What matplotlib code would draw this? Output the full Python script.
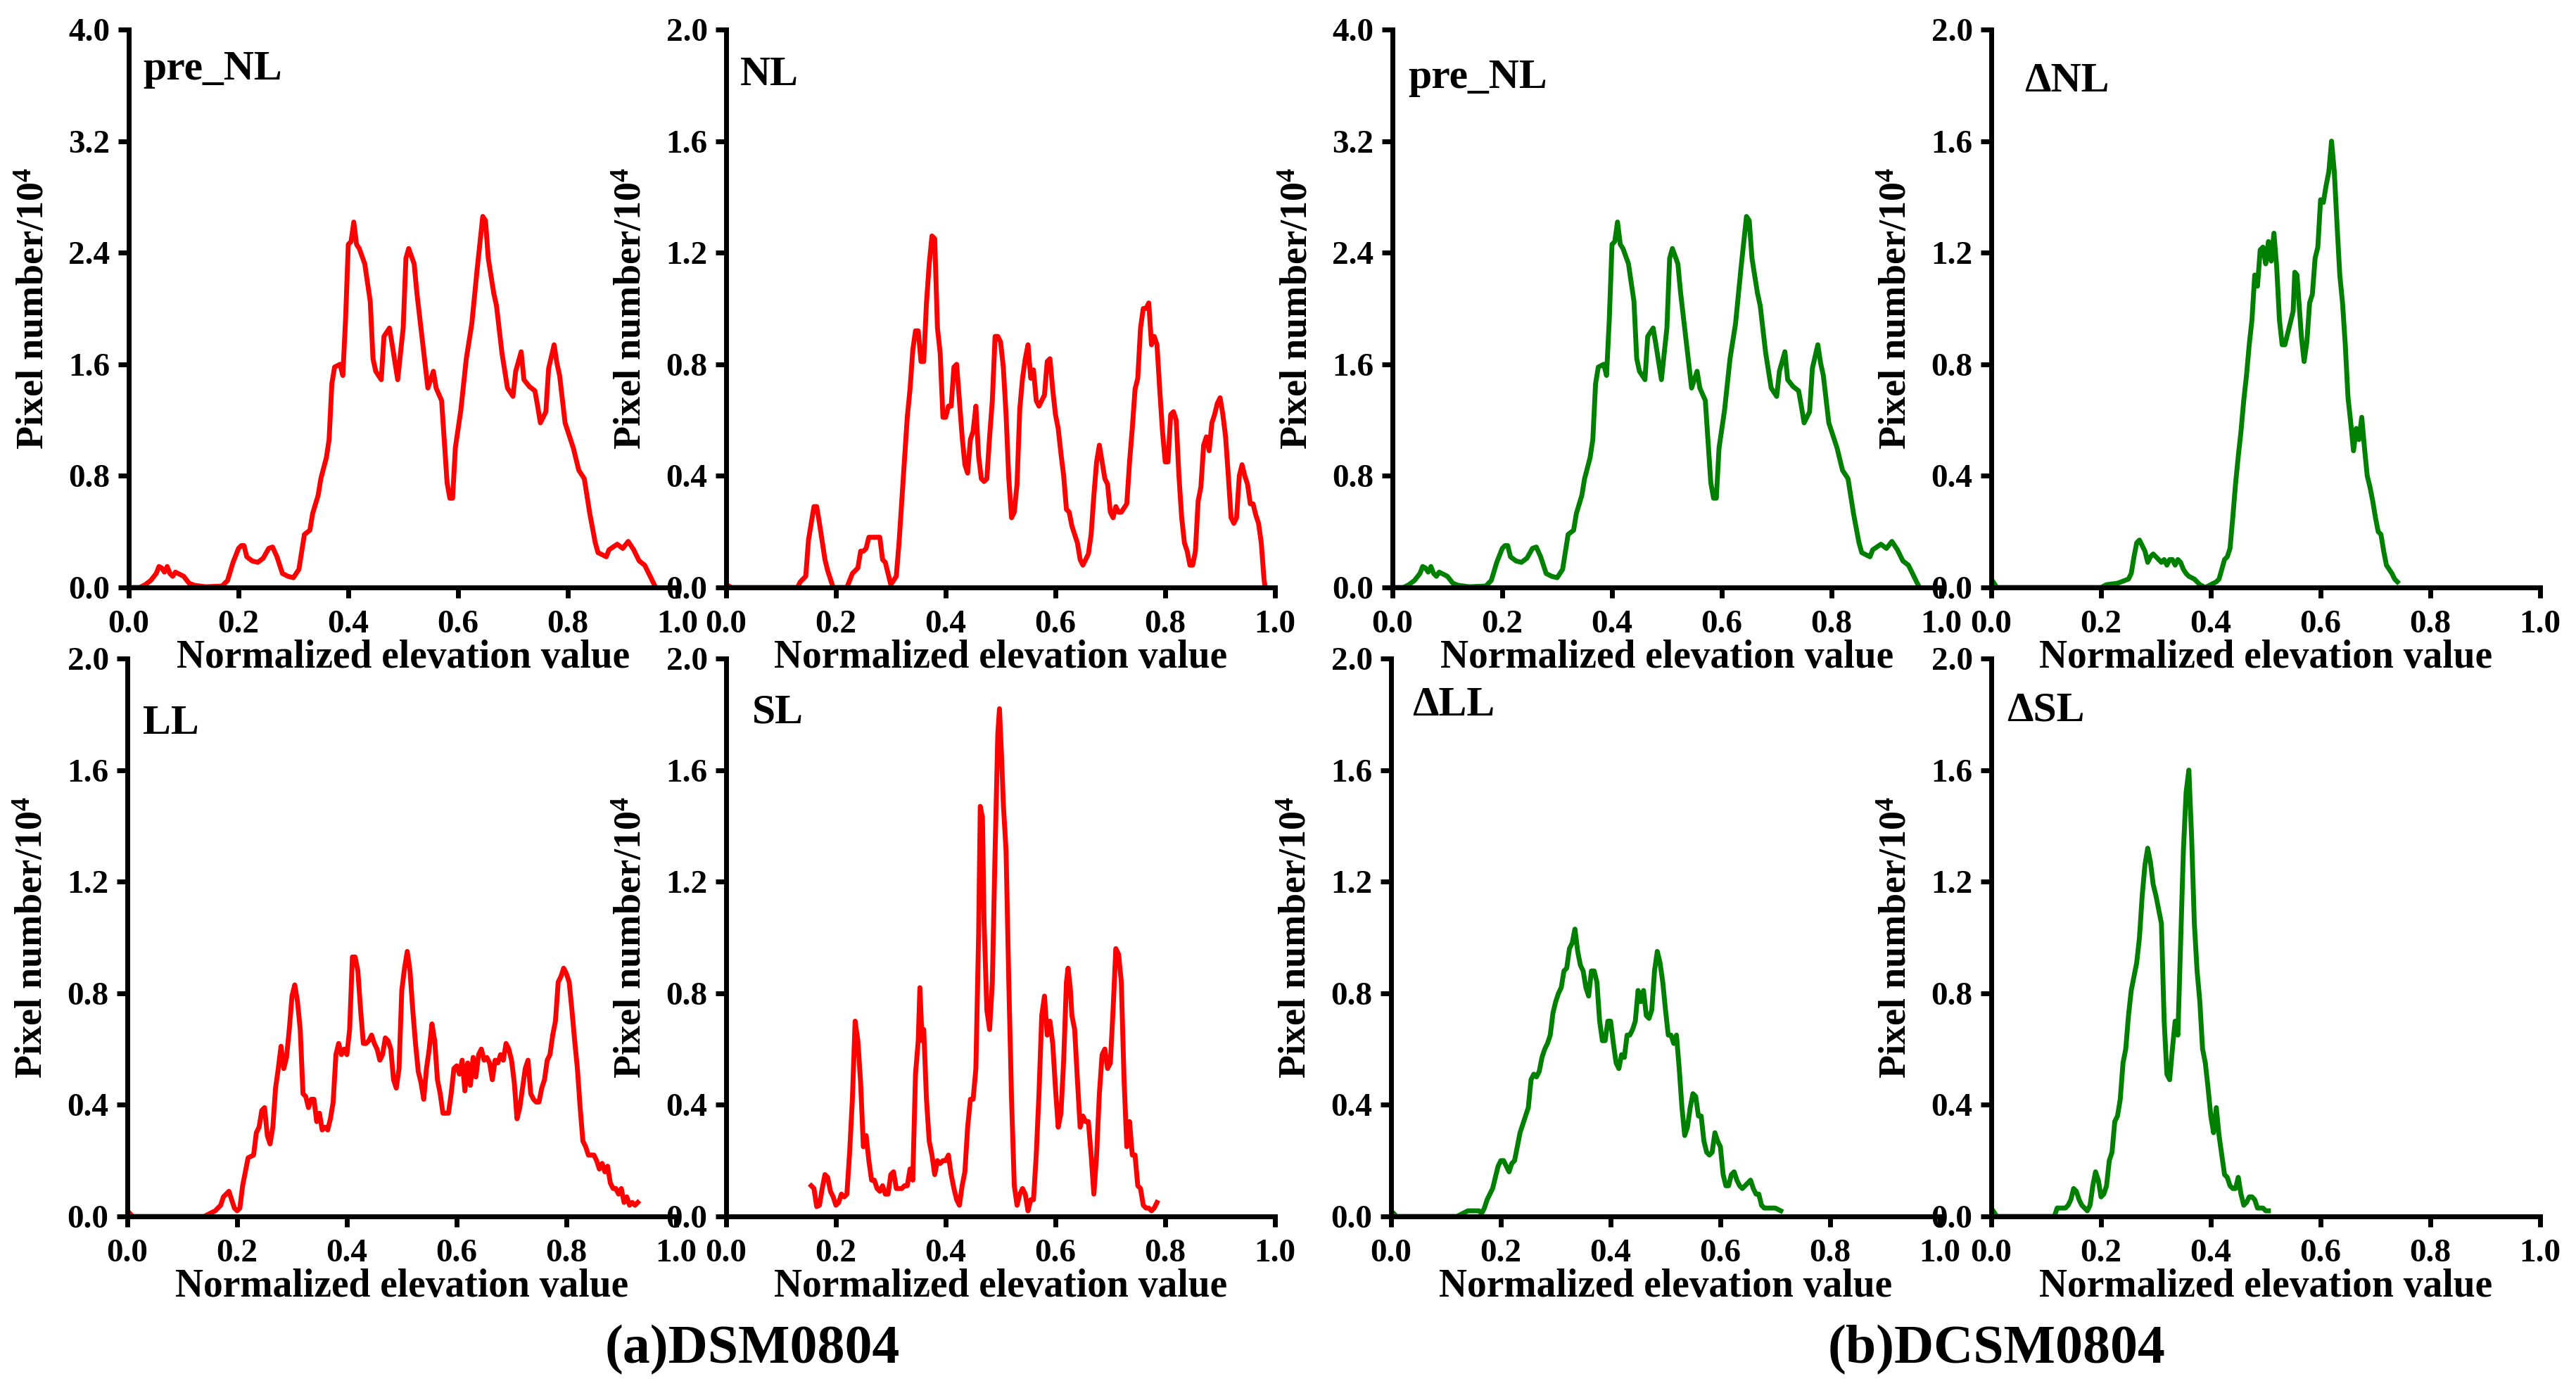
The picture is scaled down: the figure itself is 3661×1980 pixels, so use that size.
import numpy as np
import matplotlib
matplotlib.use('Agg')
import matplotlib.pyplot as plt

plt.rcParams['font.family'] = ['Liberation Serif', 'DejaVu Serif']
plt.rcParams['font.weight'] = 'bold'
plt.rcParams['mathtext.fontset'] = 'custom'
plt.rcParams['mathtext.rm'] = 'Liberation Serif:bold'
plt.rcParams['mathtext.bf'] = 'Liberation Serif:bold'
plt.rcParams['mathtext.it'] = 'Liberation Serif:bold'
plt.rcParams['mathtext.default'] = 'rm'

# (elevation, pixel number / 1e4)
pre_nl = [(0, 0), (0.02, 0), (0.03, 0.02), (0.04, 0.05), (0.05, 0.1), (0.055, 0.15), (0.06, 0.14),
          (0.065, 0.11), (0.07, 0.15), (0.075, 0.1), (0.08, 0.08), (0.085, 0.11), (0.09, 0.1),
          (0.1, 0.08), (0.11, 0.03), (0.12, 0.015), (0.14, 0.005), (0.17, 0.01), (0.18, 0.05),
          (0.19, 0.18), (0.2, 0.28), (0.205, 0.3), (0.21, 0.3), (0.215, 0.22), (0.225, 0.19),
          (0.235, 0.18), (0.245, 0.21), (0.255, 0.28), (0.262, 0.29), (0.27, 0.22), (0.28, 0.1),
          (0.29, 0.08), (0.3, 0.07), (0.31, 0.13), (0.32, 0.38), (0.33, 0.41), (0.335, 0.53),
          (0.345, 0.66), (0.35, 0.78), (0.36, 0.93), (0.365, 1.06), (0.37, 1.46), (0.375, 1.58),
          (0.385, 1.6), (0.39, 1.52), (0.395, 1.92), (0.4, 2.46), (0.405, 2.48), (0.41, 2.62),
          (0.415, 2.46), (0.42, 2.43), (0.43, 2.32), (0.44, 2.05), (0.445, 1.64), (0.45, 1.55),
          (0.46, 1.49), (0.465, 1.8), (0.475, 1.86), (0.48, 1.74), (0.49, 1.49), (0.5, 1.86),
          (0.505, 2.36), (0.51, 2.43), (0.52, 2.32), (0.525, 2.11), (0.535, 1.77), (0.545, 1.43),
          (0.55, 1.49), (0.555, 1.55), (0.56, 1.43), (0.57, 1.34), (0.58, 0.75), (0.585, 0.64),
          (0.59, 0.64), (0.595, 1.0), (0.605, 1.27), (0.615, 1.64), (0.625, 1.89), (0.635, 2.29),
          (0.645, 2.66), (0.65, 2.63), (0.655, 2.36), (0.665, 2.11), (0.67, 2.02), (0.68, 1.68),
          (0.69, 1.43), (0.7, 1.37), (0.705, 1.55), (0.715, 1.69), (0.72, 1.49), (0.73, 1.44),
          (0.74, 1.41), (0.745, 1.3), (0.75, 1.18), (0.76, 1.26), (0.765, 1.57), (0.775, 1.74),
          (0.78, 1.61), (0.785, 1.52), (0.795, 1.18), (0.81, 1.0), (0.82, 0.84), (0.83, 0.78),
          (0.84, 0.53), (0.85, 0.32), (0.855, 0.25), (0.87, 0.22), (0.875, 0.27), (0.89, 0.31),
          (0.9, 0.28), (0.91, 0.33), (0.92, 0.27), (0.93, 0.19), (0.94, 0.16), (0.95, 0.08),
          (0.96, 0.0)]

nl = [(0, 0.01), (0.01, 0), (0.13, 0), (0.135, 0.02), (0.145, 0.04), (0.15, 0.17), (0.16, 0.29),
      (0.165, 0.29), (0.17, 0.23), (0.18, 0.1), (0.185, 0.06), (0.195, 0.0), (0.22, 0.0),
      (0.23, 0.05), (0.24, 0.07), (0.245, 0.13), (0.25, 0.13), (0.255, 0.14), (0.26, 0.18),
      (0.27, 0.18), (0.28, 0.18), (0.285, 0.1), (0.29, 0.09), (0.3, 0.01), (0.31, 0.04),
      (0.315, 0.16), (0.32, 0.31), (0.33, 0.61), (0.335, 0.71), (0.34, 0.85), (0.345, 0.92),
      (0.35, 0.92), (0.355, 0.81), (0.36, 0.81), (0.365, 1.02), (0.37, 1.16), (0.375, 1.26),
      (0.38, 1.25), (0.385, 0.93), (0.39, 0.84), (0.395, 0.61), (0.4, 0.61), (0.405, 0.65),
      (0.41, 0.65), (0.415, 0.79), (0.42, 0.8), (0.425, 0.67), (0.43, 0.54), (0.435, 0.44),
      (0.44, 0.41), (0.445, 0.53), (0.45, 0.56), (0.455, 0.65), (0.46, 0.47), (0.465, 0.39),
      (0.47, 0.38), (0.475, 0.39), (0.48, 0.54), (0.485, 0.67), (0.49, 0.9), (0.495, 0.9),
      (0.5, 0.88), (0.505, 0.79), (0.51, 0.62), (0.515, 0.39), (0.52, 0.25), (0.525, 0.27),
      (0.53, 0.37), (0.535, 0.64), (0.54, 0.75), (0.545, 0.82), (0.55, 0.87), (0.555, 0.75),
      (0.56, 0.78), (0.565, 0.67), (0.57, 0.65), (0.575, 0.67), (0.58, 0.69), (0.585, 0.81),
      (0.59, 0.82), (0.595, 0.71), (0.6, 0.62), (0.605, 0.57), (0.61, 0.48), (0.615, 0.4),
      (0.62, 0.28), (0.625, 0.27), (0.63, 0.22), (0.64, 0.16), (0.645, 0.1), (0.65, 0.08),
      (0.655, 0.1), (0.66, 0.12), (0.665, 0.19), (0.67, 0.33), (0.675, 0.45), (0.68, 0.51),
      (0.685, 0.45), (0.69, 0.39), (0.695, 0.37), (0.7, 0.27), (0.705, 0.25), (0.71, 0.29),
      (0.715, 0.27), (0.72, 0.27), (0.73, 0.3), (0.735, 0.45), (0.74, 0.57), (0.745, 0.71),
      (0.75, 0.75), (0.755, 0.93), (0.76, 1.0), (0.765, 1.0), (0.77, 1.02), (0.775, 0.87),
      (0.78, 0.9), (0.785, 0.87), (0.79, 0.71), (0.795, 0.56), (0.8, 0.45), (0.805, 0.45),
      (0.81, 0.62), (0.815, 0.63), (0.82, 0.6), (0.825, 0.4), (0.83, 0.25), (0.835, 0.16),
      (0.84, 0.13), (0.845, 0.08), (0.85, 0.08), (0.855, 0.13), (0.86, 0.31), (0.865, 0.36),
      (0.87, 0.51), (0.875, 0.54), (0.88, 0.49), (0.885, 0.59), (0.89, 0.62), (0.895, 0.66),
      (0.9, 0.68), (0.905, 0.62), (0.91, 0.54), (0.915, 0.4), (0.92, 0.25), (0.925, 0.23),
      (0.93, 0.25), (0.935, 0.4), (0.94, 0.44), (0.945, 0.4), (0.95, 0.37), (0.955, 0.3),
      (0.96, 0.3), (0.965, 0.26), (0.97, 0.23), (0.975, 0.16), (0.98, 0.03), (0.982, 0.0)]

ll = [(0, 0.02), (0.01, 0), (0.14, 0), (0.15, 0.01), (0.16, 0.02), (0.17, 0.04), (0.175, 0.07),
      (0.185, 0.09), (0.19, 0.06), (0.195, 0.03), (0.2, 0.02), (0.205, 0.03), (0.21, 0.11),
      (0.215, 0.16), (0.22, 0.21), (0.23, 0.22), (0.235, 0.3), (0.24, 0.32), (0.245, 0.38),
      (0.25, 0.39), (0.255, 0.29), (0.26, 0.26), (0.265, 0.32), (0.27, 0.46), (0.275, 0.53),
      (0.28, 0.61), (0.285, 0.53), (0.29, 0.57), (0.295, 0.67), (0.3, 0.79), (0.305, 0.83),
      (0.31, 0.77), (0.315, 0.67), (0.32, 0.44), (0.325, 0.43), (0.33, 0.39), (0.335, 0.42),
      (0.34, 0.42), (0.345, 0.34), (0.35, 0.37), (0.355, 0.31), (0.36, 0.32), (0.365, 0.31),
      (0.37, 0.35), (0.375, 0.41), (0.38, 0.58), (0.385, 0.62), (0.39, 0.58), (0.395, 0.6),
      (0.4, 0.58), (0.405, 0.67), (0.41, 0.93), (0.415, 0.93), (0.42, 0.88), (0.425, 0.74),
      (0.43, 0.62), (0.435, 0.62), (0.44, 0.63), (0.445, 0.65), (0.45, 0.62), (0.455, 0.6),
      (0.46, 0.56), (0.465, 0.58), (0.47, 0.64), (0.475, 0.63), (0.48, 0.6), (0.485, 0.49),
      (0.49, 0.46), (0.495, 0.53), (0.5, 0.81), (0.505, 0.89), (0.51, 0.95), (0.515, 0.88),
      (0.52, 0.74), (0.525, 0.62), (0.53, 0.52), (0.535, 0.48), (0.54, 0.42), (0.545, 0.53),
      (0.55, 0.6), (0.555, 0.69), (0.56, 0.63), (0.565, 0.49), (0.57, 0.44), (0.575, 0.37),
      (0.58, 0.37), (0.585, 0.37), (0.59, 0.44), (0.595, 0.53), (0.6, 0.54), (0.605, 0.51),
      (0.61, 0.56), (0.615, 0.45), (0.62, 0.55), (0.625, 0.47), (0.63, 0.57), (0.635, 0.5),
      (0.64, 0.58), (0.645, 0.6), (0.65, 0.56), (0.655, 0.57), (0.66, 0.55), (0.665, 0.49),
      (0.67, 0.56), (0.675, 0.55), (0.68, 0.58), (0.685, 0.56), (0.69, 0.62), (0.695, 0.6),
      (0.7, 0.56), (0.705, 0.48), (0.71, 0.35), (0.715, 0.39), (0.72, 0.46), (0.725, 0.53),
      (0.73, 0.56), (0.735, 0.44), (0.74, 0.42), (0.745, 0.41), (0.75, 0.41), (0.755, 0.46),
      (0.76, 0.49), (0.765, 0.56), (0.77, 0.58), (0.775, 0.65), (0.78, 0.7), (0.785, 0.84),
      (0.79, 0.86), (0.795, 0.89), (0.8, 0.87), (0.805, 0.84), (0.81, 0.74), (0.815, 0.63),
      (0.82, 0.53), (0.825, 0.39), (0.83, 0.27), (0.835, 0.25), (0.84, 0.22), (0.85, 0.22),
      (0.855, 0.2), (0.86, 0.17), (0.865, 0.19), (0.87, 0.16), (0.875, 0.18), (0.88, 0.12),
      (0.885, 0.1), (0.89, 0.1), (0.895, 0.08), (0.9, 0.1), (0.905, 0.05), (0.91, 0.07),
      (0.915, 0.04), (0.92, 0.05), (0.925, 0.04), (0.93, 0.05)]

sl = [(0.155, 0.11), (0.16, 0.1), (0.165, 0.035), (0.17, 0.04), (0.175, 0.1), (0.18, 0.15),
      (0.185, 0.14), (0.19, 0.09), (0.195, 0.07), (0.2, 0.04), (0.205, 0.05), (0.21, 0.08),
      (0.215, 0.07), (0.22, 0.08), (0.225, 0.23), (0.23, 0.42), (0.235, 0.7), (0.24, 0.63),
      (0.245, 0.48), (0.25, 0.25), (0.255, 0.29), (0.26, 0.2), (0.265, 0.13), (0.27, 0.13),
      (0.275, 0.1), (0.28, 0.09), (0.285, 0.11), (0.29, 0.08), (0.295, 0.08), (0.3, 0.15),
      (0.305, 0.16), (0.31, 0.1), (0.315, 0.1), (0.32, 0.1), (0.325, 0.11), (0.33, 0.11),
      (0.335, 0.17), (0.34, 0.13), (0.345, 0.51), (0.35, 0.63), (0.353, 0.82), (0.357, 0.63),
      (0.36, 0.67), (0.365, 0.42), (0.37, 0.27), (0.375, 0.22), (0.38, 0.15), (0.385, 0.2),
      (0.39, 0.19), (0.395, 0.2), (0.4, 0.2), (0.405, 0.22), (0.41, 0.15), (0.415, 0.1),
      (0.42, 0.06), (0.425, 0.04), (0.43, 0.11), (0.435, 0.16), (0.44, 0.32), (0.445, 0.42),
      (0.45, 0.42), (0.455, 0.53), (0.46, 1.01), (0.463, 1.47), (0.467, 1.43), (0.47, 1.05),
      (0.475, 0.74), (0.48, 0.67), (0.485, 0.84), (0.49, 1.31), (0.495, 1.73), (0.498, 1.82),
      (0.502, 1.64), (0.505, 1.48), (0.51, 1.31), (0.515, 0.84), (0.52, 0.42), (0.525, 0.11),
      (0.53, 0.04), (0.535, 0.08), (0.54, 0.1), (0.545, 0.08), (0.55, 0.02), (0.555, 0.06),
      (0.56, 0.06), (0.565, 0.22), (0.57, 0.44), (0.575, 0.72), (0.58, 0.79), (0.585, 0.65),
      (0.59, 0.7), (0.595, 0.62), (0.6, 0.46), (0.605, 0.32), (0.61, 0.37), (0.615, 0.56),
      (0.62, 0.84), (0.623, 0.89), (0.627, 0.82), (0.63, 0.72), (0.635, 0.67), (0.64, 0.49),
      (0.645, 0.32), (0.65, 0.36), (0.655, 0.34), (0.66, 0.34), (0.665, 0.22), (0.67, 0.08),
      (0.675, 0.22), (0.68, 0.44), (0.685, 0.58), (0.69, 0.6), (0.695, 0.53), (0.7, 0.55),
      (0.705, 0.74), (0.71, 0.96), (0.715, 0.94), (0.72, 0.84), (0.725, 0.49), (0.73, 0.25),
      (0.735, 0.34), (0.74, 0.22), (0.745, 0.22), (0.75, 0.11), (0.755, 0.1), (0.76, 0.04),
      (0.765, 0.03), (0.77, 0.03), (0.775, 0.02), (0.78, 0.03), (0.785, 0.05)]

d_nl = [(0, 0.03), (0.01, 0), (0.2, 0), (0.21, 0.01), (0.23, 0.015), (0.25, 0.03), (0.255, 0.05),
        (0.26, 0.11), (0.265, 0.16), (0.27, 0.17), (0.275, 0.15), (0.28, 0.13), (0.285, 0.09),
        (0.29, 0.11), (0.295, 0.12), (0.3, 0.11), (0.305, 0.1), (0.31, 0.09), (0.315, 0.1),
        (0.32, 0.08), (0.325, 0.1), (0.33, 0.1), (0.335, 0.08), (0.34, 0.1), (0.345, 0.09),
        (0.35, 0.065), (0.355, 0.05), (0.36, 0.04), (0.37, 0.03), (0.38, 0.01), (0.39, 0.0),
        (0.4, 0.01), (0.41, 0.02), (0.415, 0.03), (0.42, 0.065), (0.425, 0.1), (0.43, 0.11),
        (0.435, 0.14), (0.44, 0.25), (0.445, 0.37), (0.45, 0.47), (0.455, 0.56), (0.46, 0.67),
        (0.465, 0.76), (0.47, 0.87), (0.475, 0.96), (0.48, 1.12), (0.485, 1.08), (0.49, 1.21),
        (0.495, 1.22), (0.5, 1.16), (0.505, 1.24), (0.51, 1.17), (0.515, 1.27), (0.52, 1.15),
        (0.525, 0.96), (0.53, 0.87), (0.535, 0.87), (0.54, 0.91), (0.545, 0.95), (0.55, 0.99),
        (0.553, 1.13), (0.557, 1.12), (0.56, 1.04), (0.565, 0.9), (0.57, 0.81), (0.575, 0.88),
        (0.58, 1.02), (0.585, 1.05), (0.59, 1.18), (0.595, 1.22), (0.6, 1.39), (0.605, 1.38),
        (0.61, 1.44), (0.615, 1.49), (0.62, 1.6), (0.625, 1.49), (0.63, 1.3), (0.635, 1.12),
        (0.64, 1.02), (0.645, 0.87), (0.65, 0.68), (0.655, 0.59), (0.66, 0.49), (0.665, 0.57),
        (0.67, 0.53), (0.675, 0.61), (0.68, 0.5), (0.685, 0.4), (0.69, 0.36), (0.695, 0.31),
        (0.7, 0.25), (0.705, 0.2), (0.71, 0.19), (0.715, 0.13), (0.72, 0.08), (0.725, 0.065),
        (0.73, 0.05), (0.735, 0.03), (0.74, 0.02)]

d_ll = [(0, 0.02), (0.01, 0), (0.12, 0), (0.13, 0.01), (0.14, 0.02), (0.15, 0.02), (0.16, 0.02),
        (0.165, 0.01), (0.17, 0.03), (0.175, 0.06), (0.18, 0.08), (0.185, 0.1), (0.19, 0.14),
        (0.195, 0.18), (0.2, 0.2), (0.205, 0.2), (0.21, 0.18), (0.215, 0.16), (0.22, 0.19),
        (0.225, 0.2), (0.23, 0.25), (0.235, 0.3), (0.24, 0.33), (0.245, 0.36), (0.25, 0.39),
        (0.255, 0.49), (0.26, 0.51), (0.265, 0.5), (0.27, 0.52), (0.275, 0.57), (0.28, 0.6),
        (0.285, 0.62), (0.29, 0.65), (0.295, 0.73), (0.3, 0.77), (0.305, 0.8), (0.31, 0.82),
        (0.315, 0.88), (0.32, 0.89), (0.325, 0.96), (0.33, 0.98), (0.335, 1.03), (0.34, 0.95),
        (0.345, 0.9), (0.35, 0.88), (0.355, 0.82), (0.36, 0.79), (0.365, 0.88), (0.37, 0.88),
        (0.375, 0.84), (0.38, 0.7), (0.385, 0.63), (0.39, 0.63), (0.395, 0.7), (0.4, 0.7),
        (0.405, 0.62), (0.41, 0.55), (0.415, 0.53), (0.42, 0.58), (0.425, 0.57), (0.43, 0.65),
        (0.435, 0.65), (0.44, 0.67), (0.445, 0.7), (0.45, 0.81), (0.455, 0.77), (0.46, 0.81),
        (0.465, 0.72), (0.47, 0.71), (0.475, 0.74), (0.48, 0.88), (0.485, 0.95), (0.49, 0.91),
        (0.495, 0.84), (0.5, 0.74), (0.505, 0.65), (0.51, 0.65), (0.515, 0.62), (0.52, 0.65),
        (0.525, 0.53), (0.53, 0.39), (0.535, 0.29), (0.54, 0.32), (0.545, 0.39), (0.55, 0.44),
        (0.555, 0.43), (0.56, 0.36), (0.565, 0.36), (0.57, 0.27), (0.575, 0.23), (0.58, 0.22),
        (0.585, 0.23), (0.59, 0.3), (0.595, 0.27), (0.6, 0.25), (0.605, 0.15), (0.61, 0.11),
        (0.615, 0.11), (0.62, 0.15), (0.625, 0.16), (0.63, 0.13), (0.635, 0.11), (0.64, 0.1),
        (0.645, 0.11), (0.65, 0.12), (0.655, 0.13), (0.66, 0.1), (0.665, 0.08), (0.67, 0.08),
        (0.675, 0.04), (0.68, 0.03), (0.69, 0.03), (0.7, 0.03), (0.71, 0.02)]

d_sl = [(0, 0.03), (0.01, 0), (0.115, 0), (0.12, 0.03), (0.125, 0.03), (0.13, 0.03), (0.135, 0.03),
        (0.14, 0.04), (0.145, 0.06), (0.15, 0.1), (0.155, 0.09), (0.16, 0.06), (0.165, 0.04),
        (0.17, 0.03), (0.175, 0.02), (0.18, 0.04), (0.185, 0.11), (0.19, 0.16), (0.195, 0.13),
        (0.2, 0.07), (0.205, 0.08), (0.21, 0.11), (0.215, 0.2), (0.22, 0.23), (0.225, 0.34),
        (0.23, 0.36), (0.235, 0.42), (0.24, 0.55), (0.245, 0.6), (0.25, 0.72), (0.255, 0.81),
        (0.26, 0.86), (0.265, 0.91), (0.27, 1.0), (0.275, 1.15), (0.28, 1.26), (0.285, 1.32),
        (0.29, 1.27), (0.295, 1.19), (0.3, 1.15), (0.305, 1.1), (0.31, 1.05), (0.315, 0.7),
        (0.32, 0.51), (0.325, 0.49), (0.33, 0.6), (0.335, 0.7), (0.34, 0.65), (0.345, 0.98),
        (0.35, 1.31), (0.355, 1.52), (0.36, 1.6), (0.365, 1.36), (0.37, 1.05), (0.375, 0.88),
        (0.38, 0.77), (0.385, 0.6), (0.39, 0.55), (0.395, 0.46), (0.4, 0.36), (0.405, 0.3),
        (0.41, 0.39), (0.415, 0.29), (0.42, 0.22), (0.425, 0.15), (0.43, 0.14), (0.435, 0.11),
        (0.44, 0.1), (0.445, 0.1), (0.45, 0.14), (0.455, 0.08), (0.46, 0.04), (0.465, 0.05),
        (0.47, 0.07), (0.475, 0.07), (0.48, 0.06), (0.485, 0.03), (0.49, 0.03), (0.495, 0.03),
        (0.5, 0.02), (0.505, 0.02)]

panels = [
    # series, label, colour, y max, y step, left edge px, row
    (pre_nl, 'pre_NL', '#ff0000', 4.0, 0.8, 183, 0),
    (nl, 'NL', '#ff0000', 2.0, 0.4, 1032, 0),
    (pre_nl, 'pre_NL', '#008000', 4.0, 0.8, 1979, 0),
    (d_nl, '\u0394NL', '#008000', 2.0, 0.4, 2830, 0),
    (ll, 'LL', '#ff0000', 2.0, 0.4, 181, 1),
    (sl, 'SL', '#ff0000', 2.0, 0.4, 1032, 1),
    (d_ll, '\u0394LL', '#008000', 2.0, 0.4, 1977, 1),
    (d_sl, '\u0394SL', '#008000', 2.0, 0.4, 2830, 1),
]
label_pos = [(0.026, 0.91), (0.026, 0.90), (0.028, 0.895), (0.061, 0.889),
             (0.028, 0.865), (0.047, 0.885), (0.039, 0.898), (0.028, 0.889)]

W, H = 3662, 1980
fig = plt.figure(figsize=(W / 100, H / 100), dpi=100)
row_top = [42, 936]
ax_w, ax_h = 780, 793

for (data, name, col, ymax, ystep, left, row), (lx, ly) in zip(panels, label_pos):
    ax = fig.add_axes([left / W, 1 - (row_top[row] + ax_h) / H, ax_w / W, ax_h / H])
    ax.patch.set_alpha(0)
    arr = np.array(data)
    ax.plot(arr[:, 0], arr[:, 1], color=col, lw=5.0, solid_joinstyle='round')
    ax.set_xlim(0, 1)
    ax.set_ylim(0, ymax)
    ax.set_xticks(np.arange(0, 1.01, 0.2))
    ax.set_yticks(np.arange(0, ymax + 0.01, ystep))
    ax.xaxis.set_major_formatter(matplotlib.ticker.FormatStrFormatter('%.1f'))
    ax.yaxis.set_major_formatter(matplotlib.ticker.FormatStrFormatter('%.1f'))
    for s in ['top', 'right']:
        ax.spines[s].set_visible(False)
    for s in ['left', 'bottom']:
        ax.spines[s].set_linewidth(5)
    ax.tick_params(axis='both', direction='out', length=11, width=5, labelsize=34)
    ax.tick_params(axis='x', pad=12)
    ax.tick_params(axis='y', pad=8)
    ax.set_xlabel('Normalized elevation value', fontsize=40, fontweight='bold')
    ax.xaxis.set_label_coords(0.5, -0.093)
    ax.set_ylabel('Pixel number/10$^{4}$', fontsize=39, fontweight='bold')
    ax.yaxis.set_label_coords(-0.14, 0.5)
    ax.text(lx, ly, name, transform=ax.transAxes, fontsize=43, fontweight='bold', va='baseline')

fig.text(1069 / W, 1 - 1919 / H, '(a)DSM0804', fontsize=56, fontweight='bold', ha='center', va='center')
fig.text(2838 / W, 1 - 1919 / H, '(b)DCSM0804', fontsize=56, fontweight='bold', ha='center', va='center')

fig.savefig('out.png', dpi=100)
